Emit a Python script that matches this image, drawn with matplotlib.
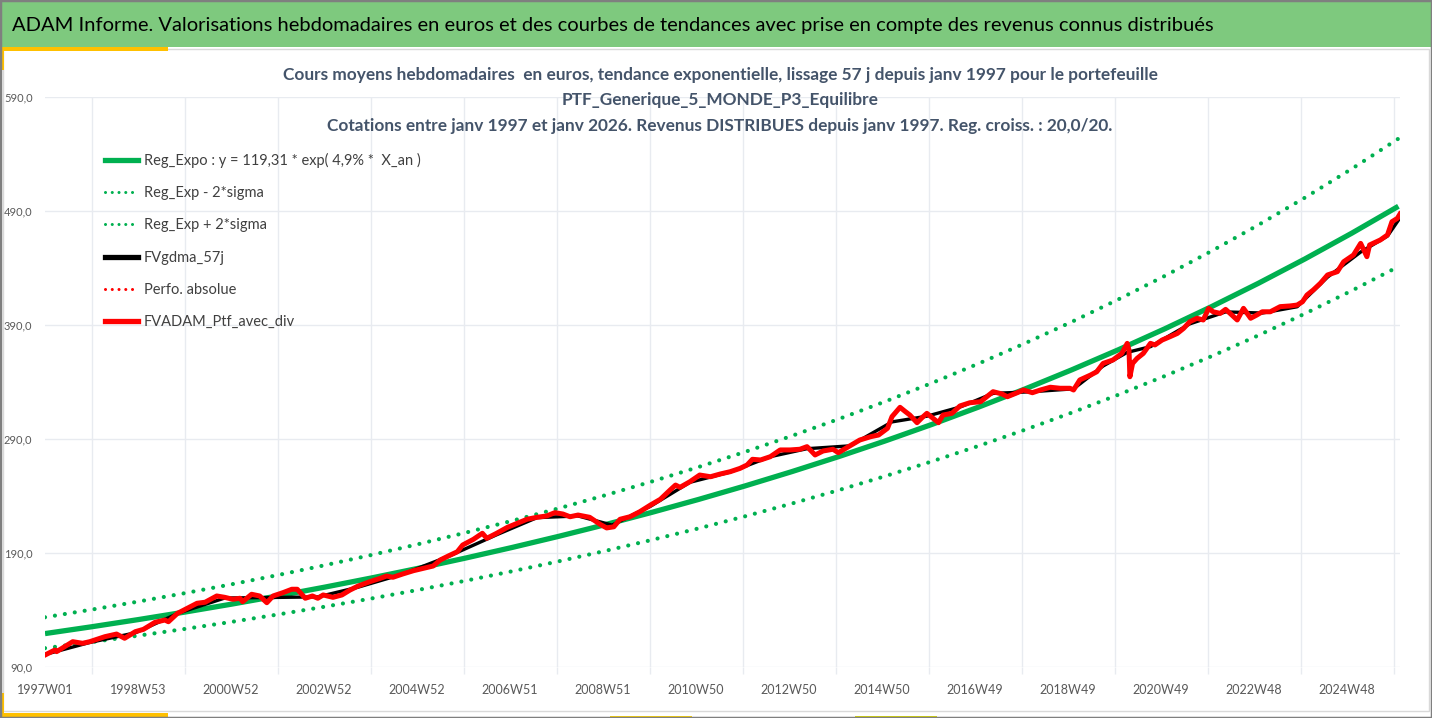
import matplotlib
matplotlib.use("Agg")
import matplotlib.pyplot as plt
import numpy as np
from matplotlib.patches import Rectangle
from matplotlib.lines import Line2D

plt.rcParams['font.family'] = ['Lato', 'DejaVu Sans']

# ---- data ----
# x = week index since 1997W01
ptf_weeks = [0, 11, 13, 31, 42, 50, 67, 80, 89, 101, 110, 123, 134, 138, 148, 159, 170, 179,
             192, 201, 210, 218, 221, 231, 240, 248, 255, 266, 276, 282, 291, 299, 305, 311,
             322, 332, 341, 350, 363, 375, 382, 389, 400, 412, 423, 434, 442, 451, 461, 467,
             479, 489, 494, 505, 517, 528, 539, 550, 561, 570, 579, 587, 596, 609, 621, 628,
             636, 643, 654, 665, 677, 688, 699, 705, 710, 721, 732, 744, 755, 766, 777, 785,
             791, 800, 811, 822, 833, 844, 852, 861, 870, 881, 887, 900, 911, 923, 932, 942,
             947, 956, 962, 967, 975, 981, 986, 993, 999, 1004, 1014, 1023, 1034, 1046, 1053,
             1060, 1070, 1076, 1087, 1094, 1104, 1113, 1124, 1135, 1146, 1150, 1157, 1169,
             1176, 1183, 1194, 1204, 1210, 1212, 1213, 1216, 1221, 1228, 1236, 1241, 1249,
             1258, 1266, 1273, 1280, 1288, 1295, 1301, 1306, 1314, 1320, 1325, 1333, 1340,
             1348, 1355, 1361, 1370, 1381, 1392, 1400, 1406, 1411, 1418, 1426, 1434, 1445,
             1452, 1463, 1471, 1478, 1481, 1493, 1501, 1506, 1512, 1515]
ptf_values = [100.5, 104.9, 103.5, 112.2, 110.8, 112.2, 116.6, 118.9, 115.2, 121.0, 123.0,
              129.2, 131.2, 129.7, 137.0, 141.4, 145.9, 146.8, 152.3, 151.1, 149.4, 150.3,
              147.3, 153.8, 152.3, 146.4, 152.3, 155.2, 158.2, 158.2, 150.3, 152.3, 150.3,
              153.2, 151.1, 153.2, 157.5, 161.0, 164.8, 167.8, 169.8, 168.7, 171.6, 174.5,
              176.6, 178.6, 183.9, 187.4, 191.1, 197.0, 202.0, 207.3, 202.9, 207.3, 212.5,
              216.0, 219.6, 221.3, 222.5, 225.4, 224.2, 221.8, 223.3, 221.3, 215.0, 212.0,
              213.0, 219.6, 221.8, 226.2, 232.1, 237.1, 245.3, 249.6, 247.6, 252.5, 258.4,
              256.9, 259.3, 261.3, 264.2, 267.2, 272.2, 271.6, 274.5, 280.4, 280.4, 281.0,
              283.3, 276.0, 279.5, 281.0, 278.0, 284.0, 289.1, 292.0, 293.5, 299.4, 309.6,
              317.8, 314.0, 311.0, 304.3, 309.0, 312.5, 308.1, 304.3, 311.0, 312.5, 319.0,
              321.8, 322.7, 327.1, 331.5, 329.5, 327.1, 330.6, 333.0, 330.6, 333.0, 335.4,
              334.5, 334.5, 333.0, 341.8, 346.1, 349.0, 356.3, 359.3, 365.1, 373.9, 368.0,
              344.6, 356.3, 360.7, 365.1, 373.9, 372.5, 376.8, 379.8, 382.6, 387.0, 392.9,
              395.9, 394.4, 404.6, 401.6, 400.2, 403.7, 400.2, 394.4, 404.6, 395.9, 398.8,
              401.6, 401.6, 406.1, 406.7, 407.5, 410.4, 416.3, 420.7, 426.6, 433.9, 436.8,
              445.5, 451.4, 461.6, 449.9, 460.2, 464.6, 469.0, 480.6, 483.5, 487.4]

# smoothed 57-day curve (mostly hidden under the red one)
gdma_weeks = [0, 50, 101, 150, 201, 255, 305, 350, 400, 451, 505, 550, 596, 634, 677, 721,
              766, 811, 852, 900, 947, 986, 1023, 1060, 1104, 1150, 1183, 1210, 1236, 1280,
              1320, 1361, 1400, 1434, 1471, 1501, 1515]
gdma_values = [101.0, 111.5, 120.0, 137.5, 150.5, 151.0, 151.5, 160.0, 171.5, 187.0, 206.0,
               221.0, 222.5, 214.5, 231.0, 252.0, 261.0, 274.5, 281.5, 284.0, 305.0, 310.0,
               318.0, 330.0, 331.5, 334.0, 354.0, 366.0, 371.0, 391.0, 401.5, 400.5, 406.0,
               432.0, 454.0, 468.0, 484.0]

# exponential trend and +/- 2 sigma band, one value per year from 1997
reg_years = list(range(1997, 2027))
reg_values = [119.31, 125.30, 131.60, 138.21, 145.15, 152.44, 160.10, 168.14, 176.58, 185.45,
              194.77, 204.55, 214.82, 225.61, 236.94, 248.84, 261.34, 274.46, 288.25, 302.73,
              317.93, 333.90, 350.67, 368.28, 386.77, 406.20, 426.60, 448.02, 470.52, 494.15]
reg_upper = [133.63, 140.34, 147.39, 154.80, 162.57, 170.73, 179.31, 188.32, 197.77, 207.70,
             218.14, 229.10, 240.60, 252.68, 265.37, 278.70, 292.70, 307.40, 322.84, 339.06,
             356.08, 373.97, 392.75, 412.47, 433.18, 454.94, 477.79, 501.78, 526.98, 553.45]
reg_lower = [106.53, 111.88, 117.50, 123.40, 129.60, 136.11, 142.95, 150.13, 157.66, 165.58,
             173.90, 182.63, 191.80, 201.44, 211.55, 222.18, 233.34, 245.05, 257.37, 270.29,
             283.87, 298.13, 313.10, 328.82, 345.33, 362.68, 380.89, 400.02, 420.11, 441.21]

tick_labels = ["1997W01", "1998W53", "2000W52", "2002W52", "2004W52", "2006W51", "2008W51",
               "2010W50", "2012W50", "2014W50", "2016W49", "2018W49", "2020W49", "2022W48",
               "2024W48"]
y_ticks = [90, 190, 290, 390, 490, 590]

header = ("ADAM Informe. Valorisations hebdomadaires en euros et des courbes de tendances "
          "avec prise en compte des revenus connus distribués")
title_lines = [
    "Cours moyens hebdomadaires  en euros, tendance exponentielle, lissage 57 j depuis janv 1997 pour le portefeuille",
    "PTF_Generique_5_MONDE_P3_Equilibre",
    "Cotations entre janv 1997 et janv 2026. Revenus DISTRIBUES depuis janv 1997. Reg. croiss. : 20,0/20.",
]
legend_labels = ["Reg_Expo : y = 119,31 * exp( 4,9% *  X_an )", "Reg_Exp - 2*sigma",
                 "Reg_Exp + 2*sigma", "FVgdma_57j", "Perfo. absolue", "FVADAM_Ptf_avec_div"]

GREEN = "#00b050"
RED = "#ff0000"
GRID = "#e8ebf0"
TXT = "#595959"
TITLE = "#44546a"

W, H = 1432, 718
fig = plt.figure(figsize=(W / 100, H / 100), dpi=100)
fig.patch.set_facecolor("white")
renderer = fig.canvas.get_renderer()


def fx(x):
    return x / W


def fy(y):
    return 1 - y / H


def fit(txt, target):
    w = txt.get_window_extent(renderer).width
    txt.set_fontsize(txt.get_fontsize() * target / w)


# header band and frame decoration
fig.patches.append(Rectangle((0, fy(47)), 1, 47 / H, transform=fig.transFigure,
                             facecolor="#7ec97e", edgecolor="none", zorder=0))
fig.patches.append(Rectangle((fx(3), fy(711)), fx(1426), (711 - 49) / H, transform=fig.transFigure,
                             facecolor="none", edgecolor="#d9d9d9", lw=1, zorder=0))
for (x0, y0, w, h, c) in [(0, 47, 168, 4, "#ffc000"), (0, 47, 4, 23, "#ffc000"),
                          (0, 713, 168, 5, "#ffc000"), (0, 693, 4, 25, "#ffc000"),
                          (610, 716, 82, 2, "#ffd400"), (855, 716, 82, 2, "#d8d800")]:
    fig.patches.append(Rectangle((fx(x0), fy(y0 + h)), w / W, h / H, transform=fig.transFigure,
                                 facecolor=c, edgecolor="none", zorder=1))
fig.patches.append(Rectangle((0, 0), 1, 1, transform=fig.transFigure, facecolor="none",
                             edgecolor="#7f7f7f", lw=2.5, zorder=5))

h_txt = fig.text(fx(12), fy(25), header, fontsize=16, color="black", ha="left", va="center")
fit(h_txt, 1205)

t_objs = []
for line, yy in zip(title_lines, [75, 100, 126]):
    t_objs.append(fig.text(fx(720), fy(yy), line, fontsize=12, fontweight="bold",
                           color=TITLE, ha="center", va="center"))
fit(t_objs[0], 865)
for t in t_objs[1:]:
    t.set_fontsize(t_objs[0].get_fontsize())

# plot area
ax = fig.add_axes([fx(45), fy(667), (1400 - 45) / W, (667 - 97) / H])
ax.set_facecolor("none")

reg_weeks = [(y - 1997) * 52.18 for y in reg_years]
dot = dict(ls=(0, (0.01, 2.4)), dash_capstyle="round", lw=3.0, color=GREEN)
ax.plot(reg_weeks, reg_upper, **dot, zorder=3)
ax.plot(reg_weeks, reg_lower, **dot, zorder=3)
ax.plot(reg_weeks, reg_values, color=GREEN, lw=3.8, solid_capstyle="butt", zorder=3)
ax.plot(gdma_weeks, gdma_values, color="black", lw=2.4, zorder=4)
ax.plot(ptf_weeks, ptf_values, color=RED, lw=1.5, ls=":", zorder=4)
ax.plot(ptf_weeks, ptf_values, color=RED, lw=3.6, solid_joinstyle="round", zorder=5)

ax.set_xlim(0, 1515)
ax.set_ylim(90, 590)
ax.set_xticks(np.arange(len(tick_labels)) * 104, tick_labels)
ax.set_xticks(np.arange(0, 1515, 52), minor=True)
ax.set_yticks(y_ticks, [f"{v},0" for v in y_ticks])
ax.grid(which="minor", axis="x", color=GRID, lw=1.0)
ax.grid(which="major", axis="y", color=GRID, lw=1.0)
ax.tick_params(axis="x", which="major", length=0, pad=12, labelsize=9, labelcolor=TXT)
ax.tick_params(axis="x", which="minor", length=5, width=1.0, color=GRID, direction="out")
ax.tick_params(axis="y", length=0, pad=9, labelsize=8, labelcolor=TXT)
for s in ax.spines.values():
    s.set_visible(False)
ax.set_axisbelow(True)

# legend
handles = [
    Line2D([], [], color=GREEN, lw=3.8),
    Line2D([], [], color=GREEN, lw=2.2, ls=(0, (0.01, 2.2)), dash_capstyle="round"),
    Line2D([], [], color=GREEN, lw=2.2, ls=(0, (0.01, 2.2)), dash_capstyle="round"),
    Line2D([], [], color="black", lw=3.8),
    Line2D([], [], color=RED, lw=2.2, ls=(0, (0.01, 2.2)), dash_capstyle="round"),
    Line2D([], [], color=RED, lw=3.8),
]
probe = fig.text(0, 0, legend_labels[0], fontsize=11)
fit(probe, 276)
lfs = probe.get_fontsize()
probe.remove()
fs_px = lfs * 100 / 72
fig.legend(handles, legend_labels, loc="upper left", bbox_to_anchor=(fx(105), fy(153)),
           bbox_transform=fig.transFigure, frameon=False, fontsize=lfs, borderpad=0,
           borderaxespad=0, handlelength=33 / fs_px, handletextpad=6 / fs_px,
           labelspacing=(35 - fs_px * 1.15) / fs_px, labelcolor="#404040")

fig.savefig("out.png", dpi=100)
